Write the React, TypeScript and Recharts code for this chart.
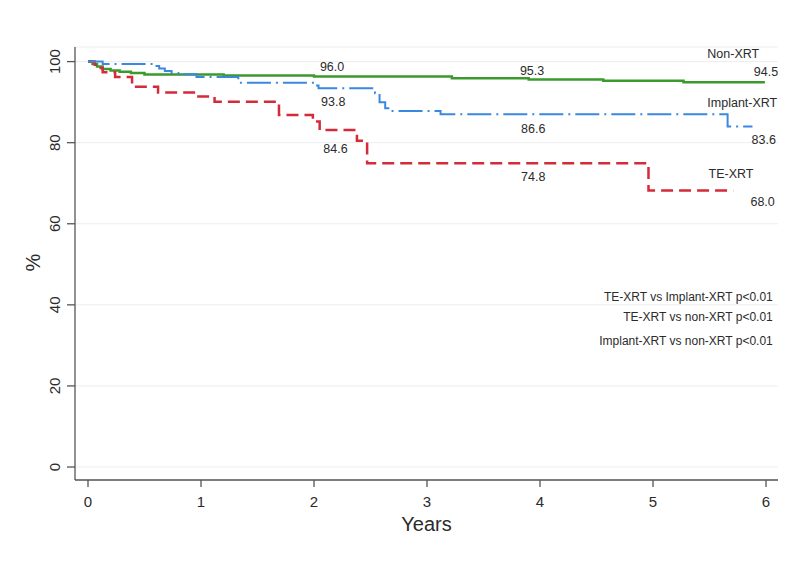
import React from 'react';
import { ComposedChart, Line, Scatter, XAxis, YAxis, CartesianGrid, Label } from 'recharts';

// Kaplan-Meier step curves (time in years, survival %)
const nonXrtYears = [0, 0.04, 0.08, 0.13, 0.2, 0.28, 0.38, 0.5, 1.2, 2.0, 3.22, 3.9, 4.56, 5.27, 5.99];
const nonXrtSurv = [100, 99.4, 98.8, 98.2, 97.8, 97.5, 97.2, 96.8, 96.6, 96.3, 95.9, 95.6, 95.3, 94.9, 94.9];

const implantYears = [0, 0.13, 0.59, 0.63, 0.68, 0.74, 0.8, 0.96, 1.33, 2.0, 2.04, 2.54, 2.58, 2.63, 2.67, 3.12, 5.66, 5.88];
const implantSurv = [100, 99.4, 98.9, 98.3, 97.7, 97.2, 96.9, 96.2, 94.8, 94.1, 93.4, 92.2, 90.0, 88.5, 87.8, 87.0, 84.0, 84.0];

const teYears = [0, 0.06, 0.09, 0.13, 0.24, 0.39, 0.62, 0.95, 1.12, 1.69, 1.99, 2.05, 2.38, 2.47, 4.96, 5.71];
const teSurv = [100, 99.2, 98.4, 97.4, 96.2, 93.8, 92.4, 91.4, 90.1, 86.8, 85.2, 83.1, 80.5, 74.9, 68.2, 68.2];

const xTicks = [0, 1, 2, 3, 4, 5, 6];
const yTicks = [0, 20, 40, 60, 80, 100];

// Annotations placed in data coordinates
const valueLabelText = ['96.0', '93.8', '84.6', '95.3', '86.6', '74.8', '94.5', '83.6', '68.0', 'Non-XRT', 'Implant-XRT', 'TE-XRT'];
const valueLabelX = [2.16, 2.17, 2.19, 3.93, 3.94, 3.94, 6.0, 5.98, 5.97, 5.71, 5.79, 5.69];
const valueLabelY = [98.7, 90.1, 78.5, 97.7, 83.4, 71.6, 97.5, 80.7, 65.4, 101.9, 89.8, 72.3];

const pValueText = ['TE-XRT vs Implant-XRT p<0.01', 'TE-XRT vs non-XRT p<0.01', 'Implant-XRT vs non-XRT p<0.01'];
const pValueX = [6.06, 6.06, 6.06];
const pValueY = [41.9, 37.0, 31.1];

const toPoints = (xs: number[], ys: number[]) => xs.map((x, i) => ({ x, y: ys[i] }));
const toLabels = (xs: number[], ys: number[], ts: string[]) => xs.map((x, i) => ({ x, y: ys[i], text: ts[i] }));

const nonXrtData = toPoints(nonXrtYears, nonXrtSurv);
const implantData = toPoints(implantYears, implantSurv);
const teData = toPoints(teYears, teSurv);
const valueLabels = toLabels(valueLabelX, valueLabelY, valueLabelText);
const pValueLabels = toLabels(pValueX, pValueY, pValueText);

const FONT = '"Liberation Sans", Arial, Helvetica, sans-serif';
const TEXT = '#2b2b2b';
const AXIS = '#555555';

const XTick = (props: any) => {
  const { x, y, payload } = props;
  return (
    <text x={x} y={y + 20} textAnchor="middle" fontFamily={FONT} fontSize={15} fill={TEXT}>
      {payload.value}
    </text>
  );
};

const YTick = (props: any) => {
  const { x, y, payload } = props;
  const bx = x - 7;
  return (
    <text x={bx} y={y} transform={`rotate(-90, ${bx}, ${y})`} textAnchor="middle" fontFamily={FONT} fontSize={15} fill={TEXT}>
      {payload.value}
    </text>
  );
};

const renderYears = (props: any) => {
  const vb = props.viewBox || {};
  const cx = vb.x + vb.width / 2;
  return (
    <text x={cx} y={vb.y + 51} textAnchor="middle" fontFamily={FONT} fontSize={20} fill={TEXT}>
      Years
    </text>
  );
};

const renderPercent = (props: any) => {
  const vb = props.viewBox || {};
  const bx = vb.x + 40;
  const cy = vb.y + vb.height / 2 - 1;
  return (
    <text x={bx} y={cy} transform={`rotate(-90, ${bx}, ${cy})`} textAnchor="middle" fontFamily={FONT} fontSize={20} fill={TEXT}>
      %
    </text>
  );
};

const renderValueLabel = (props: any) => (
  <text x={props.cx} y={props.cy} textAnchor="middle" dominantBaseline="central" fontFamily={FONT} fontSize={12.5} fill={TEXT}>
    {props.payload.text}
  </text>
);

const renderPValueLabel = (props: any) => (
  <text x={props.cx} y={props.cy} textAnchor="end" dominantBaseline="central" fontFamily={FONT} fontSize={12} fill={TEXT}>
    {props.payload.text}
  </text>
);

export default function App() {
  return (
    <div style={{ position: 'absolute', left: 0, top: 0, width: 800, height: 581, background: '#ffffff' }}>
      <ComposedChart width={800} height={581} margin={{ top: 47, right: 22, bottom: 71, left: 0 }}>
        <CartesianGrid vertical={false} stroke="#ededed" strokeWidth={1} />
        <XAxis
          type="number"
          dataKey="x"
          domain={[-0.115, 6.106]}
          ticks={xTicks}
          interval={0}
          allowDataOverflow
          height={30}
          tickSize={7}
          tickMargin={0}
          axisLine={{ stroke: AXIS, strokeWidth: 1.3 }}
          tickLine={{ stroke: AXIS, strokeWidth: 1.3 }}
          tick={<XTick />}
        >
          <Label content={renderYears} />
        </XAxis>
        <YAxis
          type="number"
          dataKey="y"
          domain={[-3.2, 103.6]}
          ticks={yTicks}
          interval={0}
          allowDataOverflow
          width={75}
          tickSize={8}
          tickMargin={0}
          axisLine={{ stroke: AXIS, strokeWidth: 1.3 }}
          tickLine={{ stroke: AXIS, strokeWidth: 1.3 }}
          tick={<YTick />}
        >
          <Label content={renderPercent} />
        </YAxis>
        <Line
          data={nonXrtData}
          dataKey="y"
          type="stepAfter"
          stroke="#3a9b2c"
          strokeWidth={2.5}
          dot={false}
          activeDot={false}
          isAnimationActive={false}
        />
        <Line
          data={teData}
          dataKey="y"
          type="stepAfter"
          stroke="#d42a3a"
          strokeWidth={2.5}
          strokeDasharray="12 6"
          dot={false}
          activeDot={false}
          isAnimationActive={false}
        />
        <Line
          data={implantData}
          dataKey="y"
          type="stepAfter"
          stroke="#3b88e0"
          strokeWidth={2}
          strokeDasharray="24 5 2 5"
          dot={false}
          activeDot={false}
          isAnimationActive={false}
        />
        <Scatter data={valueLabels} shape={renderValueLabel} isAnimationActive={false} />
        <Scatter data={pValueLabels} shape={renderPValueLabel} isAnimationActive={false} />
      </ComposedChart>
    </div>
  );
}
